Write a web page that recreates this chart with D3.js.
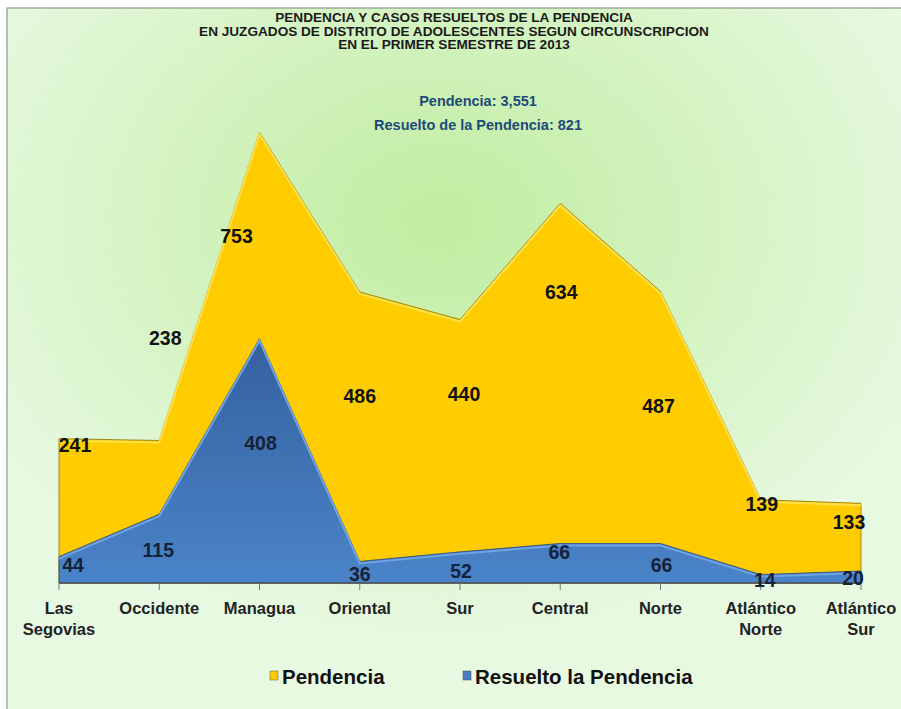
<!DOCTYPE html>
<html>
<head>
<meta charset="utf-8">
<script src="https://cdn.jsdelivr.net/npm/d3@7"></script>
<style>
  body { margin: 0; background: #fff; }
  svg text { font-family: "Liberation Sans", Arial, sans-serif; }
</style>
</head>
<body>
<div id="wrapper"></div>
<script>
var categories = [["Las", "Segovias"], ["Occidente"], ["Managua"], ["Oriental"], ["Sur"], ["Central"], ["Norte"], ["Atlántico", "Norte"], ["Atlántico", "Sur"]];
var pendencia = [241, 238, 753, 486, 440, 634, 487, 139, 133];
var resuelto = [44, 115, 408, 36, 52, 66, 66, 14, 20];
var titleLines = ["PENDENCIA Y CASOS RESUELTOS DE LA PENDENCIA", "EN JUZGADOS DE DISTRITO DE ADOLESCENTES  SEGUN CIRCUNSCRIPCION", "EN EL PRIMER SEMESTRE DE 2013"];
var subLines = ["Pendencia:  3,551", "Resuelto de la Pendencia: 821"];
var legendNames = ["Pendencia", "Resuelto la Pendencia"];

// label nudges (px) for the value labels
var pendOff = [[16, 6], [6, -102], [-23, 104], [0, 104], [4, 74], [1, 89], [-2, 115], [1, 4], [-12, 19]];
var resOff = [[14, 8], [-1, 36], [1, 104], [0, 13], [1, 19], [-1, 9], [1, 22], [4, 5], [-8, 7]];

var W = 901, H = 709;
var svg = d3.select('#wrapper').append('svg').attr('width', W).attr('height', H);
var defs = svg.append('defs');

var bg = defs.append('radialGradient').attr('id', 'bg')
  .attr('cx', '48%').attr('cy', '30%').attr('r', '60%');
bg.append('stop').attr('offset', '0%').attr('stop-color', '#c0eda0');
bg.append('stop').attr('offset', '100%').attr('stop-color', '#e8f9e2');

var blueG = defs.append('linearGradient').attr('id', 'blueG')
  .attr('x1', 0).attr('y1', 0).attr('x2', 0).attr('y2', 1);
blueG.append('stop').attr('offset', '0%').attr('stop-color', '#35609e');
blueG.append('stop').attr('offset', '100%').attr('stop-color', '#4a84c8');

svg.append('rect').attr('x', 0).attr('y', 0).attr('width', W).attr('height', H).attr('fill', '#fff');
svg.append('rect').attr('x', 7).attr('y', 8).attr('width', W).attr('height', H)
  .attr('fill', 'url(#bg)').attr('stroke', '#8a9a88').attr('stroke-width', 1.2);

var x = d3.scalePoint().domain(d3.range(categories.length)).range([59, 861]);
var y = d3.scaleLinear().domain([0, 800]).range([583, 104]);

var area = function(vals) {
  return d3.area().x(function(d, i) { return x(i); }).y0(y(0)).y1(function(d) { return y(d); })(vals);
};
var topLine = function(vals) {
  return d3.line().x(function(d, i) { return x(i); }).y(function(d) { return y(d) + 2; })(vals);
};

svg.append('path').attr('d', area(pendencia))
  .attr('fill', '#ffcc00').attr('stroke', '#8c7400').attr('stroke-width', 0.8);
svg.append('path').attr('d', topLine(pendencia))
  .attr('fill', 'none').attr('stroke', '#ffe04a').attr('stroke-width', 2);

svg.append('path').attr('d', area(resuelto))
  .attr('fill', 'url(#blueG)').attr('stroke', '#26477a').attr('stroke-width', 0.8);
svg.append('path').attr('d', topLine(resuelto))
  .attr('fill', 'none').attr('stroke', '#6fa3e4').attr('stroke-width', 2);

// axis
svg.append('line').attr('x1', 59).attr('x2', 861).attr('y1', y(0)).attr('y2', y(0))
  .attr('stroke', '#555').attr('stroke-width', 1.5);
svg.selectAll('.tick').data(categories).enter().append('line')
  .attr('x1', function(d, i) { return x(i); }).attr('x2', function(d, i) { return x(i); })
  .attr('y1', y(0)).attr('y2', y(0) + 7).attr('stroke', '#777');

var cat = svg.selectAll('.cat').data(categories).enter().append('text')
  .attr('text-anchor', 'middle').attr('font-size', 16.5).attr('font-weight', 'bold').attr('fill', '#222')
  .attr('transform', function(d, i) { return 'translate(' + x(i) + ',614)'; });
cat.selectAll('tspan').data(function(d) { return d; }).enter().append('tspan')
  .attr('x', 0).attr('dy', function(d, j) { return j ? 21 : 0; }).text(function(d) { return d; });

// value labels
svg.selectAll('.pl').data(pendencia).enter().append('text')
  .attr('x', function(d, i) { return x(i) + pendOff[i][0]; })
  .attr('y', function(d, i) { return y(d) + pendOff[i][1] + 7; })
  .attr('text-anchor', 'middle').attr('font-size', 19.5).attr('font-weight', 'bold').attr('fill', '#111')
  .text(function(d) { return d; });
svg.selectAll('.rl').data(resuelto).enter().append('text')
  .attr('x', function(d, i) { return x(i) + resOff[i][0]; })
  .attr('y', function(d, i) { return y(d) + resOff[i][1] + 7; })
  .attr('text-anchor', 'middle').attr('font-size', 19.5).attr('font-weight', 'bold').attr('fill', '#15223a')
  .text(function(d) { return d; });

// titles
svg.selectAll('.tt').data(titleLines).enter().append('text')
  .attr('x', 454).attr('y', function(d, i) { return 22 + i * 13.5; })
  .attr('text-anchor', 'middle').attr('font-size', 13.6).attr('font-weight', 'bold').attr('fill', '#1a1a1a')
  .text(function(d) { return d; });
svg.selectAll('.st').data(subLines).enter().append('text')
  .attr('x', 478).attr('y', function(d, i) { return 106 + i * 24; })
  .attr('text-anchor', 'middle').attr('font-size', 14.5).attr('font-weight', 'bold').attr('fill', '#1f4a78')
  .text(function(d) { return d; });

// legend
var legColors = ['#ffcc00', '#4a7cc0'];
var legX = [270, 463];
var lg = svg.selectAll('.lg').data(legendNames).enter().append('g')
  .attr('transform', function(d, i) { return 'translate(' + legX[i] + ',677)'; });
lg.append('rect').attr('x', 0).attr('y', -6).attr('width', 8).attr('height', 9)
  .attr('fill', function(d, i) { return legColors[i]; }).attr('stroke', '#555').attr('stroke-width', 0.5);
lg.append('text').attr('x', 12).attr('y', 7).attr('font-size', 20.5).attr('font-weight', 'bold').attr('fill', '#111')
  .text(function(d) { return d; });
</script>
</body>
</html>
